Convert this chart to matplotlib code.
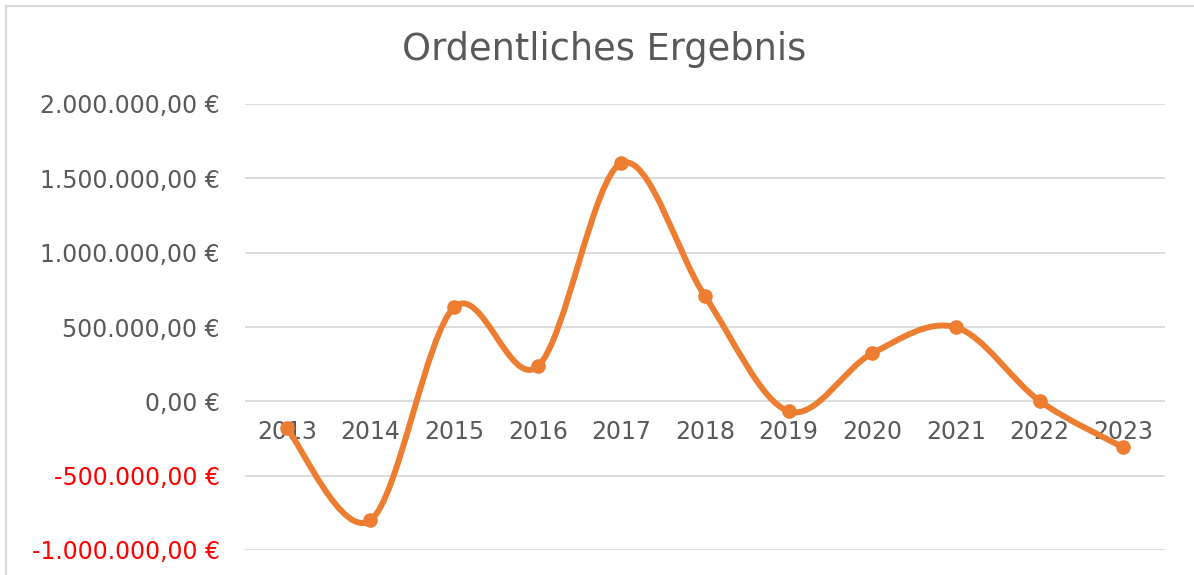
import numpy as np
import matplotlib.pyplot as plt
from matplotlib.path import Path
from matplotlib.patches import PathPatch
from matplotlib.lines import Line2D
from matplotlib.ticker import FuncFormatter

plt.rcParams['font.family'] = ['DejaVu Sans']

years = ["2013", "2014", "2015", "2016", "2017", "2018",
         "2019", "2020", "2021", "2022", "2023"]
ergebnis = [-182000, -800000, 632000, 235000, 1602000, 707000,
            -67000, 323000, 498000, 3000, -310000]

TEXT = "#595959"
ORANGE = "#ED7D31"
GRID = "#D9D9D9"


def euro(v, pos=None):
    s = f"{abs(v):,.2f}".replace(",", "X").replace(".", ",").replace("X", ".")
    return ("-" if v < 0 else "") + s + " €"


def smooth_path(x, y):
    # Bezier segments like Excel's smoothed line
    pts = np.column_stack([x, y]).astype(float)
    n = len(pts)
    verts = [pts[0]]
    codes = [Path.MOVETO]
    for i in range(n - 1):
        p0 = pts[max(i - 1, 0)]
        p1 = pts[i]
        p2 = pts[i + 1]
        p3 = pts[min(i + 2, n - 1)]
        c1 = p1 + (p2 - p0) / 6.0
        c2 = p2 - (p3 - p1) / 6.0
        verts += [c1, c2, p2]
        codes += [Path.CURVE4] * 3
    return Path(verts, codes)


fig = plt.figure(figsize=(11.94, 5.75), dpi=100)
ax = fig.add_axes([245 / 1194, 1 - 550 / 575, 920 / 1194, (550 - 104) / 575])

x = np.arange(len(years))
ax.add_patch(PathPatch(smooth_path(x, ergebnis), facecolor="none",
                       edgecolor=ORANGE, lw=4.3, capstyle="round", zorder=4))
ax.plot(x, ergebnis, "o", color=ORANGE, ms=9.5, zorder=5)

ax.set_xlim(-0.5, len(years) - 0.5)
ax.set_ylim(-1000000, 2000000)
ax.set_yticks(np.arange(-1000000, 2000001, 500000))
ax.yaxis.set_major_formatter(FuncFormatter(euro))
ax.tick_params(axis="y", length=0, pad=18, labelsize=17, labelcolor=TEXT)
for lab, v in zip(ax.get_yticklabels(), ax.get_yticks()):
    if v < 0:
        lab.set_color("#FF0000")
ax.set_xticks([])
ax.grid(axis="y", color=GRID, lw=1.3)
ax.set_axisbelow(True)
for s in ax.spines.values():
    s.set_visible(False)

for i, yr in enumerate(years):
    ax.annotate(yr, (i, 0), xytext=(0, -22), textcoords="offset points",
                ha="center", va="center", fontsize=17, color=TEXT, zorder=3)

fig.text(0.506, 1 - 50 / 575, "Ordentliches Ergebnis", ha="center",
         va="center", fontsize=26.5, color=TEXT)

fig.add_artist(Line2D([6 / 1194, 6 / 1194], [0, 1 - 6 / 575], color=GRID, lw=1.6))
fig.add_artist(Line2D([6 / 1194, 1], [1 - 6 / 575, 1 - 6 / 575], color=GRID, lw=1.6))

fig.savefig("out.png", dpi=100)
